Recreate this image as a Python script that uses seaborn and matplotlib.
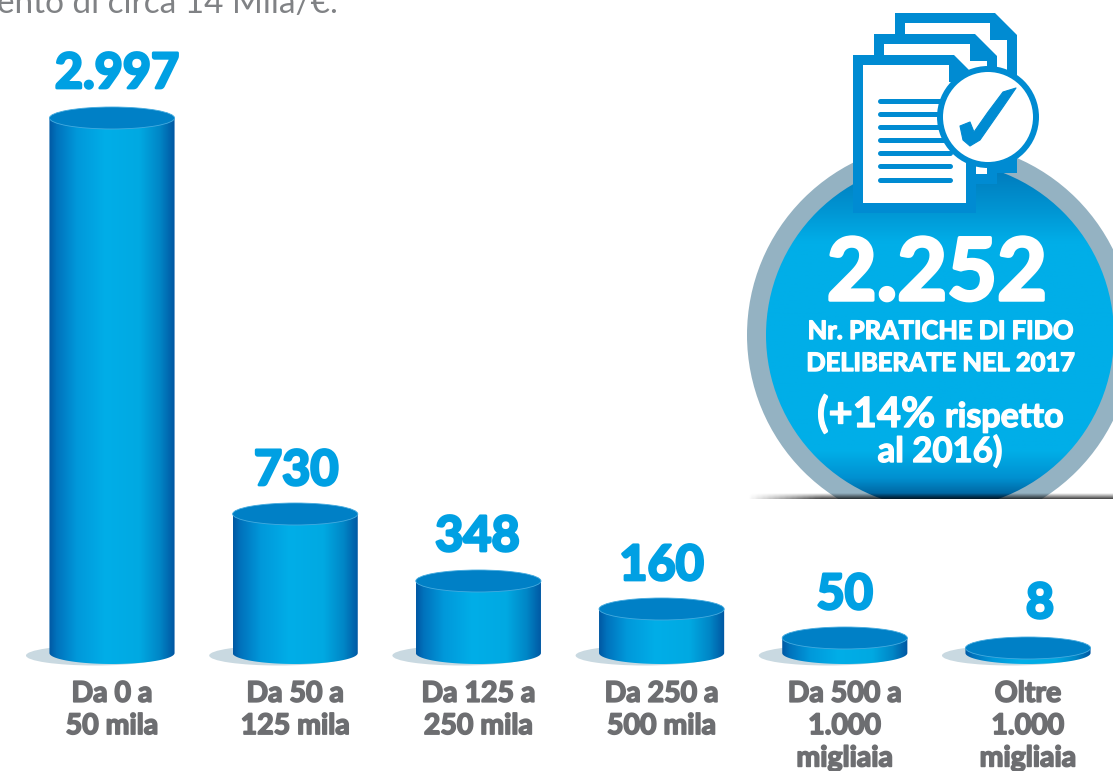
#!/usr/bin/env python3
"""Pratiche di fido per classe di importo: cilindri con etichette e riquadro 2.252."""

import numpy as np
import pandas as pd
import matplotlib.pyplot as plt
import matplotlib.patheffects as pe
import seaborn as sns
from matplotlib.colors import LinearSegmentedColormap
from matplotlib.patches import Circle, Ellipse, Polygon, Rectangle

# Data
categories = ['Da 0 a\n50 mila', 'Da 50 a\n125 mila', 'Da 125 a\n250 mila',
              'Da 250 a\n500 mila', 'Da 500 a\n1.000\nmigliaia', 'Oltre\n1.000\nmigliaia']
value_labels = ['2.997', '730', '348', '160', '50', '8']
# the infographic does not draw to scale, so these are the heights as drawn
drawn_heights = [535, 139, 72, 44, 15, 5]

WIDTH, HEIGHT = 1113, 771
BASELINE = 653
ELLIPSE_H = 22
BLUE = '#00A0E3'
GREY = '#6D6E71'
ICON = '#008BD2'

# pixel shift of each value label from its bar
label_dx = [5, 1, -1, 0, 0, 12]
label_gap = [29, 28, 29, 28, 28, 29]

side_cmap = LinearSegmentedColormap.from_list('side', [
    (0.0, '#0058A3'), (0.06, '#0072BC'), (0.22, '#0098DA'), (0.45, '#00AEE8'),
    (0.72, '#00A9E2'), (0.88, '#0086C6'), (1.0, '#0056A2')])
disc_cmap = LinearSegmentedColormap.from_list('disc', [
    (0.0, '#0076B8'), (0.14, '#0094D2'), (0.24, '#00AEE8'), (0.86, '#00AEE8'),
    (0.94, '#0090D0'), (1.0, '#005A94')])


def fatten(color, width):
    """The original font is rounder and heavier than Lato bold."""
    return [pe.withStroke(linewidth=width, foreground=color)]


def draw_document(ax, left, top, right, bottom, cut=22):
    """One sheet of the icon: blue outline, white page, folded corner."""
    ax.add_patch(Polygon([(left, top), (right - cut, top), (right, top + cut), (right, bottom), (left, bottom)],
                         facecolor=ICON, edgecolor='none', zorder=5))
    ax.add_patch(Polygon([(left + 10, top + 10), (right - cut - 5, top + 10), (right - cut - 5, top + 27),
                          (right - 10, top + 27), (right - 10, bottom - 10), (left + 10, bottom - 10)],
                         facecolor='white', edgecolor='none', zorder=5))


def draw_background(ax):
    """Circle, icon and circle texts, in pixel coordinates."""
    ax.set_xlim(0, WIDTH)
    ax.set_ylim(HEIGHT, 0)
    ax.axis('off')

    limit = Rectangle((0, 0), WIDTH, 499, transform=ax.transData)
    ring = Circle((940, 335), 193, facecolor='#94B2C2', edgecolor='none', zorder=1)
    ax.add_patch(ring)
    ring.set_clip_path(limit)

    grad = np.linspace(0, 1, 256).reshape(-1, 1)
    disc = Circle((940, 335), 174, transform=ax.transData)
    im = ax.imshow(grad, extent=(766, 1114, 499, 161), cmap=disc_cmap, aspect='auto', zorder=2)
    im.set_clip_path(disc)

    # dark line where the circle disappears behind the white panel
    shade = np.zeros((32, 64, 4))
    shade[..., 3] = np.linspace(0, 0.75, 32).reshape(-1, 1) * np.clip(np.linspace(0, 5, 64), 0, 1)
    ax.imshow(shade, extent=(745, 1114, 499, 493), aspect='auto', zorder=3)

    draw_document(ax, 895, 13, 1017, 173)
    draw_document(ax, 874, 34, 997, 184)
    draw_document(ax, 853, 55, 976, 213)
    for y in [101, 114, 127, 140, 153, 166, 180]:
        ax.plot([880, 950], [y, y], color=ICON, lw=3.6, solid_capstyle='round', zorder=6)

    ax.add_patch(Circle((988, 117), 51, facecolor=ICON, edgecolor='none', zorder=7))
    ax.add_patch(Circle((988, 117), 45, facecolor='white', edgecolor='none', zorder=7))
    check = [(960, 126), (970, 122), (974, 132), (988, 112), (1003, 92), (1016, 88),
             (1003, 107), (980, 140), (970, 146), (963, 140)]
    ax.add_patch(Polygon(check, facecolor=ICON, edgecolor=ICON, lw=0.8, joinstyle='round', zorder=8))

    white = fatten('white', 1.0)
    ax.text(937, 300, '2.252', color='white', fontsize=62, fontweight='bold',
            ha='center', va='baseline', zorder=9, path_effects=fatten('white', 2.5))
    ax.text(940, 339, 'Nr. PRATICHE DI FIDO', color='white', fontsize=18.3, fontweight='bold',
            ha='center', va='baseline', zorder=9, path_effects=white)
    ax.text(940, 371, 'DELIBERATE NEL 2017', color='white', fontsize=18.3, fontweight='bold',
            ha='center', va='baseline', zorder=9, path_effects=white)
    ax.text(935, 427, '(+14%', color='white', fontsize=30, fontweight='bold',
            ha='right', va='baseline', zorder=9, path_effects=white)
    ax.text(945, 427, 'rispetto', color='white', fontsize=24.5, fontweight='bold',
            ha='left', va='baseline', zorder=9, path_effects=white)
    ax.text(940, 462, 'al 2016)', color='white', fontsize=25, fontweight='bold',
            ha='center', va='baseline', zorder=9, path_effects=white)

    ax.text(-3, 13, 'ento di circa 14 Mila/€.', color='#808285', fontsize=24,
            ha='left', va='baseline', zorder=9)


def draw_cylinders(ax):
    """Turn the seaborn bars into cylinders with side gradient and top disc."""
    grad = np.linspace(0, 1, 256).reshape(1, -1)
    half = ELLIPSE_H / 2
    for bar in ax.patches:
        x, w, h = bar.get_x(), bar.get_width(), bar.get_height()
        cx = x + w / 2
        bar.set_visible(False)

        ax.add_patch(Ellipse((cx - 0.093, -2.5), 0.753, 20, facecolor='#C9D9E1',
                             edgecolor='none', clip_on=False, zorder=1))

        t = np.linspace(0, np.pi, 80)
        arc = np.column_stack([cx - w / 2 * np.cos(t), -half * np.sin(t)])
        outline = np.vstack([[x, h], arc, [x + w, h]])
        body = Polygon(outline, transform=ax.transData)
        im = ax.imshow(grad, extent=(x, x + w, -half, h), cmap=side_cmap, aspect='auto', zorder=2)
        im.set_clip_path(body)
        im.set_clip_box(ax.figure.bbox)

        ax.add_patch(Ellipse((cx, h), w, ELLIPSE_H, facecolor='#0080C6', edgecolor='#45ABDF',
                             lw=0.6, clip_on=False, zorder=3))


def main():
    sns.set_theme(style='white')
    plt.rcParams['font.family'] = ['Lato', 'DejaVu Sans']

    df = pd.DataFrame({'classe': categories, 'altezza': drawn_heights})

    fig = plt.figure(figsize=(WIDTH / 100, HEIGHT / 100), dpi=100, facecolor='white')
    bg = fig.add_axes([0, 0, 1, 1], zorder=0)
    draw_background(bg)

    ax = fig.add_axes([0, (HEIGHT - BASELINE) / HEIGHT, 1, BASELINE / HEIGHT], zorder=1)
    ax.patch.set_visible(False)
    sns.barplot(data=df, x='classe', y='altezza', color=BLUE, width=0.683, ax=ax)

    texts = ax.bar_label(ax.containers[0], labels=value_labels, color=BLUE,
                         fontsize=35, fontweight='bold', zorder=5,
                         path_effects=fatten(BLUE, 2.0))
    for txt, dx, gap in zip(texts, label_dx, label_gap):
        # offset points; the label box starts about 7 px under the digits
        txt.xyann = (dx * 0.72, (gap - 7) * 0.72)
    draw_cylinders(ax)

    ax.set_xlim(-112 / 183.2, (WIDTH - 112) / 183.2)
    ax.set_ylim(0, BASELINE)
    ax.set_xlabel('')
    ax.set_ylabel('')
    ax.set_yticks([])
    ax.tick_params(axis='x', length=0, pad=20, labelsize=20.5, labelcolor=GREY)
    for label in ax.get_xticklabels():
        label.set_fontweight('bold')
        label.set_linespacing(1.3)
        label.set_path_effects(fatten(GREY, 1.2))
    sns.despine(ax=ax, left=True, bottom=True)

    fig.savefig('out.png', dpi=100)


if __name__ == '__main__':
    main()
